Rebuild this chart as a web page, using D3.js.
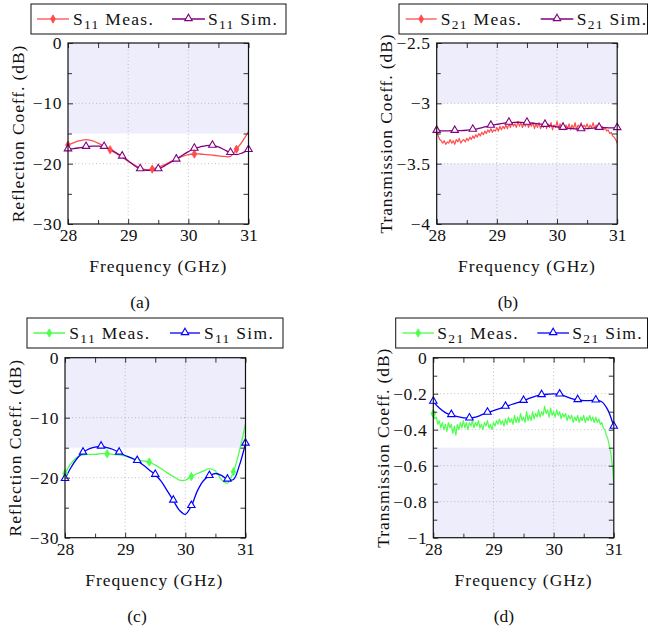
<!DOCTYPE html>
<html>
<head>
<meta charset="utf-8">
<script src="https://cdn.jsdelivr.net/npm/d3@7"></script>
<style>
body { margin: 0; background: #fff; }
svg { display: block; font-family: "Liberation Serif", "Times New Roman", serif; }
</style>
</head>
<body>
<svg width="648" height="632"></svg>
<script>
// frequency sweeps (GHz)
var freqCoarse = d3.range(31).map(function(i) { return 28 + i / 10; });
var freqFine = d3.range(121).map(function(i) { return 28 + i / 40; });

// (a) reflection, first prototype
var s11MeasA = [-16.9, -16.5, -16.2, -16.0, -16.2, -16.6, -17.1, -17.7, -18.3, -18.9,
  -19.6, -20.2, -20.7, -21.0, -20.9, -20.6, -20.2, -19.7, -19.2, -18.8,
  -18.5, -18.4, -18.4, -18.5, -18.6, -18.7, -18.8, -18.8, -17.6, -16.3, -14.7];
var s11SimA = [-17.6, -17.5, -17.35, -17.2, -17.1, -17.1, -17.2, -17.6, -18.2, -18.8,
  -19.5, -20.3, -20.9, -21.1, -21.1, -20.9, -20.4, -19.8, -19.3, -18.6,
  -18.0, -17.5, -17.2, -17.0, -17.0, -17.2, -17.7, -18.2, -18.5, -18.2, -17.7];

// (b) transmission, first prototype
var s21MeasB = [-3.22, -3.27, -3.30, -3.31, -3.33, -3.31, -3.34, -3.32, -3.33, -3.30,
  -3.33, -3.31, -3.34, -3.30, -3.32, -3.29, -3.33, -3.31, -3.30, -3.32,
  -3.29, -3.31, -3.28, -3.30, -3.27, -3.29, -3.26, -3.28, -3.25, -3.27,
  -3.24, -3.26, -3.23, -3.25, -3.22, -3.24, -3.21, -3.24, -3.22, -3.23,
  -3.20, -3.23, -3.19, -3.22, -3.19, -3.21, -3.18, -3.21, -3.17, -3.20,
  -3.16, -3.19, -3.17, -3.20, -3.15, -3.19, -3.16, -3.20, -3.17, -3.19,
  -3.15, -3.20, -3.17, -3.19, -3.16, -3.21, -3.17, -3.20, -3.16, -3.21,
  -3.18, -3.20, -3.15, -3.21, -3.17, -3.20, -3.16, -3.22, -3.18, -3.20,
  -3.15, -3.21, -3.17, -3.20, -3.16, -3.22, -3.18, -3.21, -3.17, -3.22,
  -3.18, -3.21, -3.16, -3.22, -3.18, -3.20, -3.16, -3.21, -3.18, -3.20,
  -3.17, -3.21, -3.18, -3.20, -3.16, -3.21, -3.18, -3.20, -3.17, -3.21,
  -3.19, -3.22, -3.20, -3.23, -3.22, -3.25, -3.24, -3.27, -3.28, -3.30, -3.33];
var s21SimB = [-3.227, -3.228, -3.228, -3.227, -3.226, -3.223, -3.218, -3.208, -3.196, -3.185,
  -3.175, -3.166, -3.160, -3.157, -3.157, -3.160, -3.165, -3.171, -3.177, -3.186,
  -3.195, -3.202, -3.208, -3.212, -3.213, -3.210, -3.205, -3.202, -3.202, -3.203, -3.204];

// (c) reflection, second prototype
var s11MeasC = [-19.3, -17.6, -16.6, -16.2, -16.1, -16.1, -16.0, -16.0, -16.1, -16.2,
  -16.4, -16.7, -17.0, -17.2, -17.4, -17.9, -18.5, -19.2, -19.8, -20.4,
  -20.4, -19.8, -19.3, -18.9, -18.5, -18.9, -20.3, -20.9, -19.0, -15.5, -11.0];
var s11SimC = [-20.2, -18.3, -16.8, -15.8, -15.2, -14.9, -14.8, -15.0, -15.3, -15.8,
  -16.3, -16.7, -17.2, -17.9, -18.7, -19.5, -20.6, -22.2, -23.8, -25.4,
  -26.1, -24.7, -22.2, -20.5, -19.7, -19.3, -19.6, -20.3, -20.3, -17.9, -14.3];

// (d) transmission, second prototype
var s21MeasD = [-0.31, -0.34, -0.33, -0.37, -0.35, -0.39, -0.36, -0.40, -0.37, -0.41,
  -0.36, -0.39, -0.37, -0.42, -0.38, -0.43, -0.37, -0.40, -0.36, -0.39,
  -0.35, -0.39, -0.36, -0.40, -0.36, -0.38, -0.35, -0.39, -0.36, -0.38,
  -0.35, -0.39, -0.37, -0.40, -0.36, -0.38, -0.35, -0.39, -0.37, -0.40,
  -0.36, -0.38, -0.35, -0.37, -0.34, -0.37, -0.35, -0.38, -0.34, -0.37,
  -0.33, -0.36, -0.34, -0.37, -0.32, -0.36, -0.33, -0.36, -0.31, -0.35,
  -0.33, -0.36, -0.30, -0.35, -0.32, -0.35, -0.30, -0.34, -0.31, -0.33,
  -0.29, -0.33, -0.30, -0.32, -0.27, -0.31, -0.29, -0.33, -0.28, -0.32,
  -0.30, -0.33, -0.29, -0.32, -0.30, -0.34, -0.31, -0.33, -0.31, -0.35,
  -0.32, -0.34, -0.32, -0.36, -0.33, -0.35, -0.32, -0.36, -0.33, -0.35,
  -0.32, -0.36, -0.33, -0.35, -0.32, -0.35, -0.33, -0.36, -0.33, -0.36,
  -0.34, -0.37, -0.36, -0.39, -0.40, -0.43, -0.45, -0.49, -0.53, -0.60, -0.70];
var s21SimD = [-0.244, -0.28, -0.305, -0.318, -0.328, -0.334, -0.337, -0.33, -0.318, -0.305,
  -0.294, -0.283, -0.272, -0.26, -0.249, -0.239, -0.225, -0.213, -0.207, -0.203,
  -0.201, -0.204, -0.215, -0.228, -0.235, -0.238, -0.238, -0.237, -0.245, -0.29, -0.383];

// ticks
var xTicks = [28, 29, 30, 31];
var xMinor = [28.5, 29.5, 30.5];
var yTicksRefl = [0, -10, -20, -30];
var yMinorRefl = [-5, -15, -25];
var yLabelsRefl = ["0", "\u221210", "\u221220", "\u221230"];
var yTicksB = [-2.5, -3, -3.5, -4];
var yMinorB = [-2.75, -3.25, -3.75];
var yLabelsB = ["\u22122.5", "\u22123", "\u22123.5", "\u22124"];
var yTicksD = [0, -0.2, -0.4, -0.6, -0.8, -1];
var yMinorD = [-0.1, -0.3, -0.5, -0.7, -0.9];
var yLabelsD = ["0", "\u22120.2", "\u22120.4", "\u22120.6", "\u22120.8", "\u22121"];

var svg = d3.select("svg");
var FS = 17.5;

function legendText(sel, sub, rest) {
  sel.append("tspan").text("S");
  sel.append("tspan").attr("font-size", 13.5).attr("dy", 4.5).text(sub);
  sel.append("tspan").attr("dy", -4.5).text("\u00a0" + rest);
}

function drawMarker(g, kind, color, cx, cy) {
  if (kind === "diamond") {
    g.append("path").attr("d", d3.symbol(d3.symbolDiamond, 20)())
      .attr("transform", "translate(" + cx + "," + cy + ")")
      .attr("fill", color).attr("stroke", color).attr("stroke-width", 0.8);
  } else {
    g.append("path").attr("d", d3.symbol(d3.symbolTriangle, 24)())
      .attr("transform", "translate(" + cx + "," + (cy - 0.5) + ")")
      .attr("fill", "white").attr("stroke", color).attr("stroke-width", 1.1);
  }
}

function panel(p) {
  var x = d3.scaleLinear().domain([28, 31]).range([p.x0, p.x0 + p.w]);
  var y = d3.scaleLinear().domain(p.yDomain).range([p.y0, p.y0 + p.h]);
  var g = svg.append("g");

  g.append("clipPath").attr("id", "clip" + p.id)
    .append("rect").attr("x", p.x0).attr("y", p.y0).attr("width", p.w).attr("height", p.h);

  // shaded bands
  p.shade.forEach(function(s) {
    g.append("rect").attr("x", p.x0).attr("width", p.w)
      .attr("y", y(s[0])).attr("height", y(s[1]) - y(s[0]))
      .attr("fill", "#ededfc");
  });

  // dotted grid
  var grid = g.append("g").attr("stroke", "#a8a8a8").attr("stroke-width", 0.8)
    .attr("stroke-dasharray", "0.9 2.6");
  xTicks.slice(1, -1).forEach(function(t) {
    grid.append("line").attr("x1", x(t)).attr("x2", x(t)).attr("y1", p.y0).attr("y2", p.y0 + p.h);
  });
  p.yTicks.slice(1, -1).forEach(function(t) {
    grid.append("line").attr("y1", y(t)).attr("y2", y(t)).attr("x1", p.x0).attr("x2", p.x0 + p.w);
  });

  // curves
  var plot = g.append("g").attr("clip-path", "url(#clip" + p.id + ")");
  p.series.forEach(function(s) {
    var pts = s.values.map(function(v, i) { return [s.freq[i], v]; });
    var line = d3.line()
      .x(function(d) { return x(d[0]); })
      .y(function(d) { return y(d[1]); })
      .curve(s.smooth ? d3.curveCatmullRom.alpha(0.5) : d3.curveLinear);
    plot.append("path").datum(pts).attr("d", line)
      .attr("fill", "none").attr("stroke", s.color)
      .attr("stroke-width", s.smooth ? 1.3 : 1.2).attr("stroke-linejoin", "round");
  });
  var marks = g.append("g");
  p.series.forEach(function(s) {
    s.values.forEach(function(v, i) {
      if (i % s.every === 0) drawMarker(marks, s.marker, s.color, x(s.freq[i]), y(v));
    });
  });

  // axes with inward ticks
  function styleAxis(a) {
    a.select(".domain").remove();
    a.selectAll(".tick line").attr("stroke", "#333").attr("stroke-width", 1);
    a.selectAll("text").attr("font-size", FS).attr("font-family", "Liberation Serif, serif").attr("fill", "#111");
  }
  var bottom = g.append("g").attr("transform", "translate(0," + (p.y0 + p.h) + ")")
    .call(d3.axisBottom(x).tickValues(xTicks).tickSize(-5).tickPadding(5).tickFormat(d3.format("d")));
  styleAxis(bottom);
  var bottomMinor = g.append("g").attr("transform", "translate(0," + (p.y0 + p.h) + ")")
    .call(d3.axisBottom(x).tickValues(xMinor).tickSize(-4).tickFormat(""));
  styleAxis(bottomMinor);
  var top = g.append("g").attr("transform", "translate(0," + p.y0 + ")")
    .call(d3.axisTop(x).tickValues(xTicks.concat(xMinor)).tickSize(-5).tickFormat(""));
  styleAxis(top);
  var left = g.append("g").attr("transform", "translate(" + p.x0 + ",0)")
    .call(d3.axisLeft(y).tickValues(p.yTicks).tickSize(-5).tickPadding(6)
      .tickFormat(function(d, i) { return p.yLabels[i]; }));
  styleAxis(left);
  left.selectAll("text").attr("letter-spacing", 0.6);
  var leftMinor = g.append("g").attr("transform", "translate(" + p.x0 + ",0)")
    .call(d3.axisLeft(y).tickValues(p.yMinor).tickSize(-4).tickFormat(""));
  styleAxis(leftMinor);
  var right = g.append("g").attr("transform", "translate(" + (p.x0 + p.w) + ",0)")
    .call(d3.axisRight(y).tickValues(p.yTicks.concat(p.yMinor)).tickSize(-5).tickFormat(""));
  styleAxis(right);

  g.append("rect").attr("x", p.x0).attr("y", p.y0).attr("width", p.w).attr("height", p.h)
    .attr("fill", "none").attr("stroke", "#111").attr("stroke-width", 1.2);

  // axis titles and caption
  g.append("text").attr("x", p.x0 + p.w / 2 + p.xlabDx).attr("y", p.y0 + p.h + 48)
    .attr("text-anchor", "middle").attr("font-size", FS).attr("letter-spacing", 1)
    .attr("fill", "#111").text("Frequency (GHz)");
  g.append("text")
    .attr("transform", "translate(" + (p.x0 - 44.5) + "," + (p.y0 + p.h / 2) + ") rotate(-90)")
    .attr("text-anchor", "middle").attr("font-size", FS).attr("letter-spacing", 0.9)
    .attr("fill", "#111").text(p.ylabel);
  g.append("text").attr("x", p.capX).attr("y", p.y0 + p.h + 84)
    .attr("text-anchor", "middle").attr("font-size", FS).attr("fill", "#111").text(p.caption);

  // legend
  var L = p.legend;
  var lg = svg.append("g");
  lg.append("rect").attr("x", L.x0).attr("y", L.y0).attr("width", L.x1 - L.x0).attr("height", 30)
    .attr("fill", "white").attr("stroke", "#111").attr("stroke-width", 1);
  p.series.forEach(function(s, i) {
    var e = L.entries[i];
    var cy = L.y0 + 15;
    lg.append("line").attr("x1", e[0]).attr("x2", e[1]).attr("y1", cy).attr("y2", cy)
      .attr("stroke", s.color).attr("stroke-width", 1.3);
    drawMarker(lg, s.marker, s.color, (e[0] + e[1]) / 2, cy);
    var t = lg.append("text").attr("x", e[2]).attr("y", cy + 5.5)
      .attr("font-size", FS).attr("letter-spacing", 1.3).attr("fill", "#111");
    legendText(t, s.sub, s.label);
  });
}

var red = "#ff4d4d", purple = "#800080", green = "#4dff4d", blue = "#0000ff";

panel({
  id: "a", x0: 68, y0: 43, w: 180.5, h: 181,
  yDomain: [0, -30], yTicks: yTicksRefl, yMinor: yMinorRefl, yLabels: yLabelsRefl,
  shade: [[0, -15]],
  series: [
    { values: s11MeasA, freq: freqCoarse, color: red, marker: "diamond", every: 7, smooth: true, sub: "11", label: "Meas." },
    { values: s11SimA, freq: freqCoarse, color: purple, marker: "triangle", every: 3, smooth: true, sub: "11", label: "Sim." }
  ],
  ylabel: "Reflection Coeff. (dB)", caption: "(a)", capX: 140, xlabDx: 0,
  legend: { x0: 31, y0: 4, x1: 286, entries: [[37, 69, 73], [172, 205, 208]] }
});

panel({
  id: "b", x0: 436.7, y0: 43, w: 180.5, h: 181,
  yDomain: [-2.5, -4], yTicks: yTicksB, yMinor: yMinorB, yLabels: yLabelsB,
  shade: [[-2.5, -3], [-3.5, -4]],
  series: [
    { values: s21MeasB, freq: freqFine, color: red, marker: "diamond", every: 1000, smooth: false, sub: "21", label: "Meas." },
    { values: s21SimB, freq: freqCoarse, color: purple, marker: "triangle", every: 3, smooth: true, sub: "21", label: "Sim." }
  ],
  ylabel: "Transmission Coeff. (dB)", caption: "(b)", capX: 508, xlabDx: 0,
  legend: { x0: 399, y0: 4, x1: 647.5, entries: [[405.7, 436.7, 440.7], [540.7, 573.3, 576.7]] }
});

panel({
  id: "c", x0: 65, y0: 357.7, w: 180.5, h: 180,
  yDomain: [0, -30], yTicks: yTicksRefl, yMinor: yMinorRefl, yLabels: yLabelsRefl,
  shade: [[0, -15]],
  series: [
    { values: s11MeasC, freq: freqCoarse, color: green, marker: "diamond", every: 7, smooth: true, sub: "11", label: "Meas." },
    { values: s11SimC, freq: freqCoarse, color: blue, marker: "triangle", every: 3, smooth: true, sub: "11", label: "Sim." }
  ],
  ylabel: "Reflection Coeff. (dB)", caption: "(c)", capX: 137, xlabDx: -1,
  legend: { x0: 27, y0: 318, x1: 283, entries: [[33.3, 65.3, 69.3], [170, 200, 204]] }
});

panel({
  id: "d", x0: 433.3, y0: 357.7, w: 180.5, h: 180,
  yDomain: [0, -1], yTicks: yTicksD, yMinor: yMinorD, yLabels: yLabelsD,
  shade: [[-0.5, -1]],
  series: [
    { values: s21MeasD, freq: freqFine, color: green, marker: "diamond", every: 1000, smooth: false, sub: "21", label: "Meas." },
    { values: s21SimD, freq: freqCoarse, color: blue, marker: "triangle", every: 3, smooth: true, sub: "21", label: "Sim." }
  ],
  ylabel: "Transmission Coeff. (dB)", caption: "(d)", capX: 504, xlabDx: 0,
  legend: { x0: 395.7, y0: 318, x1: 647.5, entries: [[402.3, 434, 437.3], [537.3, 569, 572.3]] }
});
</script>
</body>
</html>
